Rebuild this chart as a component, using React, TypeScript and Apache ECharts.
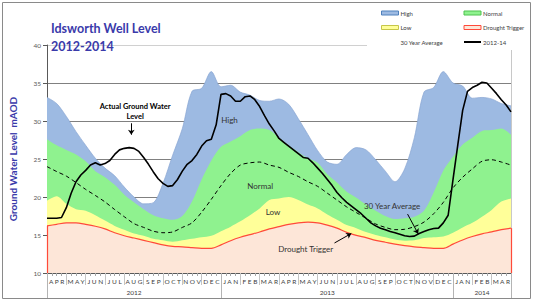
import React, { useEffect, useRef } from 'react';
import * as echarts from 'echarts';

// x positions in months from 1 Apr 2012 (0) to end of Mar 2014 (24)
const halfMonthX = [0, 0.5, 1, 1.5, 2, 2.5, 3, 3.5, 4, 4.5, 5, 5.5, 6, 6.5, 7, 7.5, 8, 8.5, 9, 9.5, 10, 10.5, 11, 11.5, 12, 12.5, 13, 13.5, 14, 14.5, 15, 15.5, 16, 16.5, 17, 17.5, 18, 18.5, 19, 19.5, 20, 20.5, 21, 21.5, 22, 22.5, 23, 23.5, 24];

const high = [33.1, 32.3, 30.6, 28.6, 26.8, 25.1, 23.8, 22.8, 21.3, 20.0, 19.1, 19.25, 21.8, 25.5, 29.0, 33.9, 34.3, 36.5, 34.5, 34.7, 33.8, 33.4, 32.7, 32.6, 32.9, 32.2, 30.3, 28.2, 26.1, 24.6, 24.3, 25.6, 26.5, 26.2, 24.9, 23.4, 22.0, 23.7, 27.8, 33.8, 34.4, 36.5, 35.0, 34.6, 33.0, 33.1, 32.9, 32.3, 32.0];
const normal = [27.6, 26.8, 26.2, 25.6, 24.7, 23.4, 22.6, 21.6, 20.3, 19.3, 18.4, 17.6, 17.2, 17.0, 17.5, 19.4, 22.3, 24.8, 26.6, 27.3, 28.0, 28.8, 29.0, 28.8, 27.8, 26.8, 25.9, 25.1, 24.5, 23.0, 21.9, 20.7, 19.9, 19.0, 18.2, 17.5, 17.1, 17.2, 17.4, 18.2, 20.6, 23.5, 25.3, 26.9, 27.8, 28.7, 28.8, 29.0, 28.2];
const low = [19.5, 20.1, 19.1, 18.4, 18.2, 17.6, 16.9, 16.2, 15.7, 15.2, 14.9, 14.5, 14.3, 14.1, 14.3, 14.5, 14.7, 14.9, 15.5, 16.1, 16.8, 17.6, 18.5, 19.6, 19.8, 20.0, 19.6, 19.0, 18.5, 17.7, 17.0, 16.3, 15.9, 15.4, 15.0, 14.7, 14.4, 14.25, 14.3, 14.6, 14.7, 14.8, 15.3, 16.0, 16.6, 17.4, 18.3, 19.4, 19.8];
const drought = [16.2, 16.4, 16.6, 16.6, 16.4, 16.15, 15.8, 15.3, 14.9, 14.6, 14.3, 14.0, 13.7, 13.5, 13.45, 13.35, 13.25, 13.25, 13.7, 14.25, 14.7, 15.05, 15.4, 15.8, 16.1, 16.4, 16.6, 16.7, 16.6, 16.3, 15.9, 15.35, 14.95, 14.65, 14.3, 14.05, 13.8, 13.6, 13.45, 13.35, 13.25, 13.25, 13.8, 14.35, 14.8, 15.15, 15.4, 15.7, 15.9];
const average30 = [24.0, 23.35, 22.75, 21.9, 21.0, 20.2, 19.35, 18.35, 17.4, 16.5, 16.0, 15.5, 15.3, 15.4, 16.0, 16.6, 18.0, 19.7, 21.5, 23.1, 24.2, 24.5, 24.6, 24.2, 23.9, 23.25, 22.7, 22.0, 21.4, 20.5, 19.6, 18.7, 17.95, 17.2, 16.45, 16.0, 15.7, 15.75, 16.1, 16.7, 17.8, 19.3, 21.2, 22.6, 23.7, 24.7, 24.9, 24.6, 24.2];

const quarterMonthX = [0, 0.25, 0.5, 0.75, 1, 1.25, 1.5, 1.75, 2, 2.25, 2.5, 2.75, 3, 3.25, 3.5, 3.75, 4, 4.25, 4.5, 4.75, 5, 5.25, 5.5, 5.75, 6, 6.25, 6.5, 6.75, 7, 7.25, 7.5, 7.75, 8, 8.25, 8.5, 8.75, 9, 9.25, 9.5, 9.75, 10, 10.25, 10.5, 10.75, 11, 11.25, 11.5, 11.75, 12, 12.25, 12.5, 12.75, 13, 13.25, 13.5, 13.75, 14, 14.25, 14.5, 14.75, 15, 15.25, 15.5, 15.75, 16, 16.25, 16.5, 16.75, 17, 17.25, 17.5, 17.75, 18, 18.25, 18.5, 18.75, 19, 19.25, 19.5, 19.75, 20, 20.25, 20.5, 20.75, 21, 21.25, 21.5, 21.75, 22, 22.25, 22.5, 22.75, 23, 23.25, 23.5, 23.75, 24];
const actual = [
  17.2, 17.2, 17.2, 17.3, 18.6, 20.5, 22.0, 22.9, 23.5, 24.2,
  24.5, 24.2, 24.4, 24.8, 25.6, 26.2, 26.4, 26.5, 26.4, 26.0,
  25.2, 24.3, 23.3, 22.4, 21.8, 21.4, 21.5, 22.3, 23.4, 24.3,
  24.8, 25.6, 26.7, 27.4, 27.6, 29.5, 33.5, 33.6, 33.3, 32.6,
  32.6, 33.2, 33.3, 32.8, 31.9, 30.7, 29.6, 28.7, 27.7, 27.2,
  26.7, 26.2, 25.7, 25.2, 25.1, 24.5, 23.8, 23.1, 22.3, 21.5,
  20.6, 19.9, 19.3, 18.8, 18.3, 17.8, 17.2, 16.6, 16.2, 15.9,
  15.7, 15.45, 15.3, 15.1, 14.9, 14.8, 14.85, 15.2, 15.45, 15.7,
  15.85, 15.9, 16.6, 17.6, 22.3, 26.9, 31.4, 33.9, 34.4, 34.7,
  35.1, 35.0, 34.3, 33.6, 32.8, 32.1, 31.2,
];

const monthLabels = ['A P R', 'M A Y', 'J U N', 'J U L', 'A U G', 'S E P', 'O C T', 'N O V', 'D E C', 'J A N', 'F E B', 'M A R', 'A P R', 'M A Y', 'J U N', 'J U L', 'A U G', 'S E P', 'O C T', 'N O V', 'D E C', 'J A N', 'F E B', 'M A R'];
const years = ['2012', '2013', '2014'];
const yearLabelSlots = [4, 14, 22];
const yearStartSlots = [0, 9, 21];

const Y_MIN = 10;
const Y_MAX = 40;
const Y_STEP = 5;

const FONT = 'Lato, "Open Sans", sans-serif';
const TITLE_BLUE = '#3a3aaa';
const C_HIGH = '#9dbae2';
const C_NORMAL = '#8ff28f';
const C_LOW = '#ffff99';
const C_DROUGHT = '#fde6d8';
const C_DROUGHT_LINE = '#ff4a3a';

const pairs = (xs: number[], ys: number[]) => xs.map((x, i) => [x, ys[i]]);

function buildOption() {
  const areaSeries = (name: string, ys: number[], fill: string, line: any) => ({
    name,
    type: 'line',
    data: pairs(halfMonthX, ys),
    symbol: 'none',
    smooth: 0.3,
    lineStyle: line,
    areaStyle: { color: fill, opacity: 1, origin: 'start' },
    itemStyle: { color: fill },
    silent: true,
  });
  const lastX = halfMonthX[halfMonthX.length - 1];
  const labelPoint = (coord: number[], text: string, extra: any = {}) => ({
    coord,
    symbol: 'rect',
    symbolSize: 1,
    itemStyle: { color: 'rgba(0,0,0,0)' },
    label: {
      show: true,
      position: 'inside',
      formatter: text,
      fontFamily: FONT,
      fontSize: 8,
      color: '#333',
      ...extra,
    },
  });
  const legendText = { fontSize: 6, color: '#404040', lineHeight: 8, fontFamily: FONT, padding: [0, 0, 0, -3] };
  return {
    animation: false,
    textStyle: { fontFamily: FONT },
    title: {
      text: 'Idsworth Well Level\n2012-2014',
      left: 46,
      top: 14,
      textStyle: { color: TITLE_BLUE, fontSize: 12.5, fontWeight: 'bold', lineHeight: 18, fontFamily: FONT },
    },
    grid: { left: 43, right: 24, top: 45, bottom: 31, containLabel: false },
    legend: [
      {
        left: 381, top: 9, orient: 'vertical', itemWidth: 17, itemHeight: 4, itemGap: 6.5,
        selectedMode: false, z: 10, padding: 0,
        textStyle: legendText,
        data: [
          { name: 'High', icon: 'rect', itemStyle: { color: C_HIGH, borderColor: '#4f81bd', borderWidth: 1 } },
          { name: 'Low', icon: 'rect', itemStyle: { color: C_LOW, borderColor: '#c6c64a', borderWidth: 1 } },
          { name: '30 Year Average', icon: 'rect', itemStyle: { opacity: 0 } },
        ],
      },
      {
        left: 463, top: 9, orient: 'vertical', itemWidth: 17, itemHeight: 4, itemGap: 6.5,
        selectedMode: false, z: 10, padding: 0,
        textStyle: legendText,
        data: [
          { name: 'Normal', icon: 'rect', itemStyle: { color: C_NORMAL, borderColor: '#4fc24f', borderWidth: 1 } },
          { name: 'Drought Trigger', icon: 'rect', itemStyle: { color: C_DROUGHT, borderColor: C_DROUGHT_LINE, borderWidth: 1 } },
          { name: '2012-14', itemStyle: { opacity: 0 } },
        ],
      },
    ],
    graphic: [
      { type: 'rect', shape: { x: 2.5, y: 2.5, width: 528, height: 296 }, style: { fill: 'none', stroke: '#8a8a8a', lineWidth: 1 }, z: 20 },
      { type: 'rect', shape: { x: 367, y: 4, width: 160, height: 46 }, style: { fill: '#ffffff' }, z: 5 },
    ],
    xAxis: [
      {
        type: 'value', min: 0, max: 24, interval: 0.25, position: 'bottom',
        axisLine: { show: true, lineStyle: { color: '#595959', width: 1 } },
        axisTick: { show: true, length: 3, lineStyle: { color: '#a6a6a6' } },
        axisLabel: { show: false },
        splitLine: { show: false },
      },
      {
        type: 'category', data: monthLabels, position: 'bottom', boundaryGap: true,
        axisLine: { show: false },
        axisTick: { show: true, length: 12, interval: 0, lineStyle: { color: '#c4c4c4' } },
        axisLabel: { interval: 0, fontSize: 6.5, color: '#404040', margin: 5, fontFamily: FONT },
        splitLine: { show: false },
      },
      {
        type: 'category', data: monthLabels, position: 'bottom', boundaryGap: true,
        axisLine: { show: false },
        axisTick: { show: true, length: 25, interval: (i: number) => yearStartSlots.includes(i), lineStyle: { color: '#b4b4b4' } },
        axisLabel: {
          interval: 0, margin: 16, fontSize: 6.5, color: '#404040', fontFamily: FONT,
          formatter: (_v: string, i: number) => {
            const k = yearLabelSlots.indexOf(i);
            return k >= 0 ? years[k] : '';
          },
        },
        splitLine: { show: false },
      },
    ],
    yAxis: [
      {
        type: 'value', min: Y_MIN, max: Y_MAX, interval: Y_STEP,
        name: 'Ground Water Level  mAOD', nameLocation: 'middle', nameGap: 29, nameRotate: 90,
        nameTextStyle: { color: TITLE_BLUE, fontWeight: 'bold', fontSize: 10, fontFamily: FONT },
        axisLine: { show: true, lineStyle: { color: '#595959' } },
        axisTick: { show: true, length: 4, lineStyle: { color: '#595959' } },
        axisLabel: { fontSize: 6.5, color: '#595959', margin: 6, fontFamily: FONT },
        splitLine: {
          show: true,
          lineStyle: { color: ['#808080', '#808080', '#808080', '#808080', '#808080', '#808080', '#d0d0d0'], width: 1 },
        },
      },
      {
        type: 'value', min: Y_MIN, max: Y_MAX, interval: Y_STEP, position: 'right',
        axisLine: { show: true, lineStyle: { color: '#c8c8c8' } },
        axisTick: { show: false }, axisLabel: { show: false }, splitLine: { show: false },
      },
    ],
    series: [
      areaSeries('High', high, C_HIGH, { width: 0.7, color: '#89a6d2' }),
      areaSeries('Normal', normal, C_NORMAL, { width: 0 }),
      areaSeries('Low', low, C_LOW, { width: 0 }),
      {
        ...areaSeries('Drought Trigger', drought, C_DROUGHT, { width: 1.2, color: C_DROUGHT_LINE }),
        markLine: {
          silent: true, symbol: ['none', 'none'], label: { show: false },
          lineStyle: { color: C_DROUGHT_LINE, width: 1.2, type: 'solid' },
          data: [
            [{ coord: [halfMonthX[0], Y_MIN] }, { coord: [halfMonthX[0], drought[0]] }],
            [{ coord: [lastX, Y_MIN] }, { coord: [lastX, drought[drought.length - 1]] }],
          ],
        },
      },
      {
        name: '30 Year Average', type: 'line', data: pairs(halfMonthX, average30), symbol: 'none', smooth: 0.3,
        lineStyle: { color: '#000', width: 1, type: [4, 3] }, itemStyle: { color: '#000' }, silent: true,
      },
      {
        name: '2012-14', type: 'line', data: pairs(quarterMonthX, actual), symbol: 'none',
        lineStyle: { color: '#000', width: 1.6 }, itemStyle: { color: '#000' }, silent: true,
        markPoint: {
          silent: true,
          data: [
            labelPoint([4.56, 31.2], 'Actual Ground Water\nLevel', { fontWeight: 'bold', fontSize: 7.5, lineHeight: 10, color: '#000' }),
            labelPoint([9.44, 30.1], 'High'),
            labelPoint([11.03, 21.45], 'Normal'),
            labelPoint([11.69, 18.0], 'Low'),
            labelPoint([13.38, 13.15], 'Drought Trigger'),
            labelPoint([17.85, 18.85], '30 Year Average'),
          ],
        },
        markLine: {
          silent: true, symbol: ['none', 'arrow'], symbolSize: 5, label: { show: false },
          lineStyle: { color: '#000', width: 1, type: 'solid' },
          data: [
            [{ coord: [4.36, 29.7] }, { coord: [4.36, 28.2] }],
            [{ coord: [14.87, 13.95] }, { coord: [15.74, 15.2] }],
            [{ coord: [18.65, 17.75] }, { coord: [19.2, 15.15] }],
          ],
        },
      },
    ],
  };
}

export default function App() {
  const ref = useRef<HTMLDivElement>(null);
  useEffect(() => {
    if (!ref.current) return;
    const chart = echarts.init(ref.current, undefined, { renderer: 'svg' });
    chart.setOption(buildOption() as any);
    return () => chart.dispose();
  }, []);
  return (
    <div
      ref={ref}
      style={{ position: 'fixed', left: 0, top: 0, width: 535, height: 304, background: '#fff' }}
    />
  );
}
